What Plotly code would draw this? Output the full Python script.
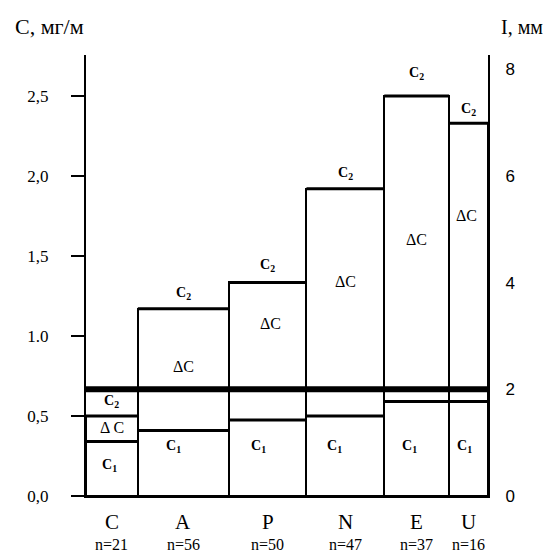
import plotly.graph_objects as go

# ---- data ----
categories = ["C", "A", "P", "N", "E", "U"]
n_labels = ["n=21", "n=56", "n=50", "n=47", "n=37", "n=16"]
bar_widths = [52, 91, 78, 78, 65, 39]
c1_values = [0.34, 0.41, 0.475, 0.50, 0.59, 0.59]
c2_values = [0.50, 1.17, 1.335, 1.92, 2.50, 2.33]
i_threshold = 2.0
left_tickvals = [0, 0.5, 1.0, 1.5, 2.0, 2.5]
left_ticktext = ["0,0", "0,5", "1.0", "1,5", "2,0", "2,5"]
right_tickvals = [0, 2, 4, 6, 8]

# ---- label placement (style) ----
c1_label_y = [0.19, 0.31, 0.31, 0.31, 0.31, 0.31]
c1_label_dx = [-2, -10, -9, -11, -7, -4]
dc_label_y = [0.425, 0.81, 1.08, 1.34, 1.60, 1.75]
dc_label_dx = [0, 0, 3, 0, 0, -2]
c2_label_dy = [14, 15, 17, 15, 22, 14]

Y_MAX = 2.756
I_PER_C = 3.0

lefts = []
acc = 0
for w in bar_widths:
    lefts.append(acc)
    acc += w
total = acc
centers = [l + w / 2 for l, w in zip(lefts, bar_widths)]

SERIF = "Liberation Serif, Times New Roman, serif"
SANS = "Liberation Sans, Arial, sans-serif"

fig = go.Figure()

fig.add_trace(go.Bar(
    x=centers, y=c2_values, width=bar_widths,
    marker=dict(color="white", line=dict(color="black", width=2)),
    hoverinfo="skip", showlegend=False,
))

def seg_trace(vals, width):
    xs, ys = [], []
    for l, w, v in zip(lefts, bar_widths, vals):
        xs += [l, l + w, None]
        ys += [v, v, None]
    return go.Scatter(x=xs, y=ys, mode="lines",
                      line=dict(color="black", width=width),
                      hoverinfo="skip", showlegend=False)

fig.add_trace(seg_trace(c1_values, 3))
fig.add_trace(seg_trace(c2_values, 3))

fig.add_trace(go.Scatter(
    x=[0, total], y=[i_threshold, i_threshold], mode="lines",
    line=dict(color="black", width=6), yaxis="y2",
    hoverinfo="skip", showlegend=False,
))

ann = []
for i, cx in enumerate(centers):
    ann.append(dict(x=cx, y=c1_label_y[i], xshift=c1_label_dx[i],
                    text="<b>C<sub>1</sub></b>", showarrow=False,
                    font=dict(family=SERIF, size=14, color="black")))
    ann.append(dict(x=cx, y=dc_label_y[i], xshift=dc_label_dx[i],
                    text="ΔC" if i else "Δ C", showarrow=False,
                    font=dict(family=SERIF, size=16, color="black")))
    ann.append(dict(x=cx, y=c2_values[i], yshift=c2_label_dy[i],
                    text="<b>C<sub>2</sub></b>", showarrow=False,
                    font=dict(family=SERIF, size=14, color="black")))
    ann.append(dict(x=cx, y=-0.059, yref="paper", yanchor="middle",
                    text=categories[i], showarrow=False,
                    font=dict(family=SERIF, size=21, color="black")))
    ann.append(dict(x=cx, y=-0.109, yref="paper", yanchor="middle",
                    text=n_labels[i], showarrow=False,
                    font=dict(family=SERIF, size=16, color="black")))

ann.append(dict(x=-0.182, xref="paper", y=1.0635, yref="paper",
                xanchor="left", yanchor="middle",
                text="C, мг/м", showarrow=False,
                font=dict(family=SERIF, size=22, color="black")))
ann.append(dict(x=1.027, xref="paper", y=1.0635, yref="paper",
                xanchor="left", yanchor="middle",
                text="I, мм", showarrow=False,
                font=dict(family=SERIF, size=20, color="black")))

# page body has an 8px margin, so the figure is sized/offset to compensate
fig.update_layout(
    width=546, height=546,
    margin=dict(l=78, r=66, t=47, b=58),
    paper_bgcolor="white", plot_bgcolor="white",
    bargap=0, showlegend=False,
    annotations=ann,
    xaxis=dict(range=[0, total], showgrid=False, zeroline=False,
               showline=True, linecolor="black", linewidth=2,
               showticklabels=False, ticks=""),
    yaxis=dict(range=[0, Y_MAX], showgrid=False, zeroline=False,
               showline=True, linecolor="black", linewidth=2,
               ticks="outside", ticklen=13, tickwidth=2, tickcolor="black",
               tickvals=left_tickvals, ticktext=left_ticktext,
               ticklabelstandoff=19,
               tickfont=dict(family=SERIF, size=17, color="black")),
    yaxis2=dict(range=[0, Y_MAX * I_PER_C], overlaying="y", side="right",
                showgrid=False, zeroline=False,
                showline=True, linecolor="black", linewidth=2,
                ticks="", tickvals=right_tickvals,
                ticklabelstandoff=12,
                tickfont=dict(family=SANS, size=17, color="black")),
)

fig.write_html("out.html")
